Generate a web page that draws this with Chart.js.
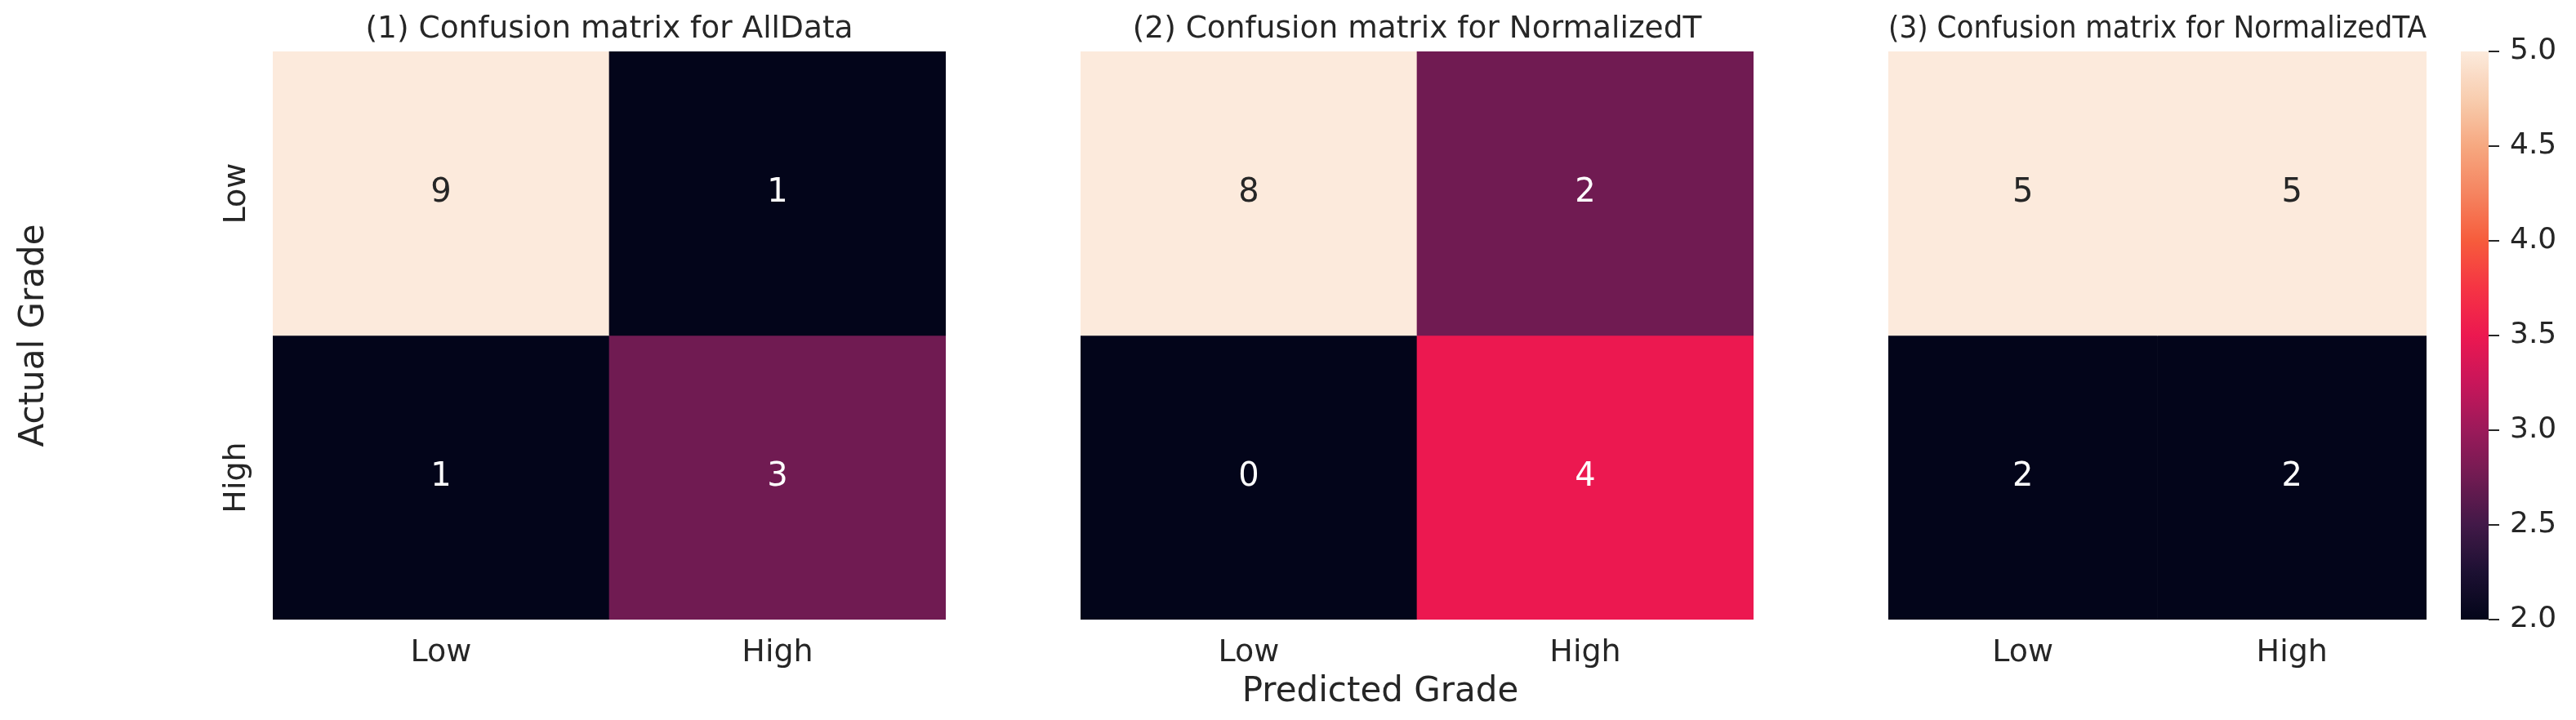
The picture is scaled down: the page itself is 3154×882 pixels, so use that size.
<!DOCTYPE html>
<html>
<head>
<meta charset="utf-8">
<script src="https://cdn.jsdelivr.net/npm/chart.js@4.4.1/dist/chart.umd.min.js"></script>
<style>
  html, body { margin: 0; padding: 0; background: #ffffff; }
  #wrap { position: relative; width: 3154px; height: 882px; overflow: hidden; background: #ffffff; }
  #wrap canvas { position: absolute; left: 0; top: 0; }
</style>
</head>
<body>
<div id="wrap">
  <canvas id="c1" width="3154" height="882"></canvas>
  <canvas id="c2" width="3154" height="882"></canvas>
  <canvas id="c3" width="3154" height="882"></canvas>
  <canvas id="cb" width="3154" height="882"></canvas>
</div>
<script>
// ---------------- data ----------------
const xCategories = ['Low', 'High'];          // predicted grade (columns)
const yCategories = ['Low', 'High'];          // actual grade (rows)
const panelTitles = [
  '(1) Confusion matrix for AllData',
  '(2) Confusion matrix for NormalizedT',
  '(3) Confusion matrix for NormalizedTA'
];
const allDataCounts       = [[9, 1], [1, 3]];
const normalizedTCounts   = [[8, 2], [0, 4]];
const normalizedTACounts  = [[5, 5], [2, 2]];
const colorbarMin = 2.0;
const colorbarMax = 5.0;
const colorbarStep = 0.5;
const xAxisLabel = 'Predicted Grade';
const yAxisLabel = 'Actual Grade';

// ---------------- styling ----------------
const FONT = 'DejaVu Sans';
const TEXT = '#262626';
Chart.defaults.font.family = FONT;
Chart.defaults.color = TEXT;

// seaborn "rocket" colormap, approximated by stops
const ROCKET_STOPS = [
  [0.000, [3, 5, 26]],
  [0.083, [28, 16, 50]],
  [0.167, [66, 25, 72]],
  [0.250, [112, 27, 82]],
  [0.333, [155, 26, 90]],
  [0.417, [200, 22, 90]],
  [0.500, [236, 24, 80]],
  [0.583, [245, 52, 68]],
  [0.667, [246, 92, 60]],
  [0.750, [245, 132, 96]],
  [0.833, [246, 168, 128]],
  [0.917, [248, 205, 175]],
  [1.000, [252, 234, 220]]
];
function rocketAt(f) {
  f = Math.max(0, Math.min(1, f));
  for (let i = 1; i < ROCKET_STOPS.length; i++) {
    const [p0, c0] = ROCKET_STOPS[i - 1];
    const [p1, c1] = ROCKET_STOPS[i];
    if (f <= p1) {
      const t = (f - p0) / (p1 - p0);
      return c0.map((a, k) => Math.round(a + (c1[k] - a) * t));
    }
  }
  return ROCKET_STOPS[ROCKET_STOPS.length - 1][1];
}
const rgb = c => `rgb(${c[0]},${c[1]},${c[2]})`;
function textColorFor(c) {
  const lin = v => { v /= 255; return v <= 0.03928 ? v / 12.92 : Math.pow((v + 0.055) / 1.055, 2.4); };
  const L = 0.2126 * lin(c[0]) + 0.7152 * lin(c[1]) + 0.0722 * lin(c[2]);
  return L > 0.408 ? TEXT : '#ffffff';
}

// cell annotations, placed through the chart's scales
const cellTextPlugin = {
  id: 'cellText',
  afterDatasetsDraw(chart) {
    const { ctx } = chart;
    const xs = chart.scales.x, ys = chart.scales.y;
    ctx.save();
    ctx.font = `40px "${FONT}"`;
    ctx.textAlign = 'center';
    ctx.textBaseline = 'middle';
    chart.data.datasets.forEach((ds, r) => {
      ds.counts.forEach((v, c) => {
        ctx.fillStyle = textColorFor(ds.rgbList[c]);
        ctx.fillText(String(v), xs.getPixelForValue(c), ys.getPixelForValue(r + 0.5));
      });
    });
    ctx.restore();
  }
};

// figure-level x label, drawn relative to the middle panel's area
const supXLabelPlugin = {
  id: 'supXLabel',
  afterDraw(chart) {
    const a = chart.chartArea;
    const { ctx } = chart;
    ctx.save();
    ctx.font = `42px "${FONT}"`;
    ctx.fillStyle = TEXT;
    ctx.textAlign = 'center';
    ctx.textBaseline = 'alphabetic';
    ctx.fillText(xAxisLabel, (a.left + a.right) / 2 - 45, a.bottom + 100);
    ctx.restore();
  }
};

function makeHeatmap(canvasId, title, counts, showY, extraPlugins) {
  const flat = counts.flat();
  const lo = Math.min(...flat), hi = Math.max(...flat);
  const datasets = counts.map((row, r) => {
    const cols = row.map(v => rocketAt(hi > lo ? (v - lo) / (hi - lo) : 0));
    return {
      label: yCategories[r],
      data: row.map(() => [r, r + 1]),
      counts: row,
      rgbList: cols,
      backgroundColor: cols.map(rgb),
      borderWidth: 0,
      grouped: false,
      barPercentage: 1,
      categoryPercentage: 1
    };
  });
  const cfg = {
    type: 'bar',
    data: { labels: xCategories, datasets },
    options: {
      responsive: false,
      animation: false,
      events: [],
      layout: { padding: { left: 0, right: 0, top: 0, bottom: 0 } },
      plugins: {
        legend: { display: false },
        tooltip: { enabled: false },
        title: {
          display: true, text: title, color: TEXT, fullSize: false,
          font: { size: 37.5, weight: 'normal', family: FONT },
          padding: { top: 0, bottom: 4 }
        }
      },
      scales: {
        x: {
          type: 'category',
          grid: { display: false, drawTicks: false },
          border: { display: false },
          ticks: { color: TEXT, font: { size: 38 }, padding: 18, maxRotation: 0, minRotation: 0, autoSkip: false }
        },
        y: {
          type: 'linear', min: 0, max: yCategories.length, reverse: true,
          display: showY,
          grid: { display: false, drawTicks: false },
          border: { display: false },
          afterBuildTicks: s => { s.ticks = yCategories.map((_, i) => ({ value: i + 0.5 })); },
          ticks: {
            color: TEXT, font: { size: 38 }, padding: 0, autoSkip: false,
            minRotation: 90, maxRotation: 90, crossAlign: 'center',
            callback: v => yCategories[Math.floor(v)]
          },
          title: {
            display: showY, text: yAxisLabel, color: TEXT,
            font: { size: 42, family: FONT },
            padding: { top: 17, bottom: 200 }
          }
        }
      }
    },
    plugins: [cellTextPlugin].concat(extraPlugins || [])
  };
  return new Chart(document.getElementById(canvasId), cfg);
}

function fitTo(chart, t, leftViaYTitle) {
  for (let i = 0; i < 5; i++) {
    const a = chart.chartArea;
    const o = chart.config.options;
    const dl = t.left - a.left, dr = a.right - t.right, dt = t.top - a.top, db = a.bottom - t.bottom;
    if (Math.abs(dl) + Math.abs(dr) + Math.abs(dt) + Math.abs(db) < 0.25) break;
    if (leftViaYTitle) o.scales.y.title.padding.bottom += dl; else o.layout.padding.left += dl;
    o.layout.padding.right += dr;
    o.layout.padding.top += dt;
    o.layout.padding.bottom += db;
    chart.update('none');
  }
}

const TOP = 63, BOTTOM = 759;
const ch1 = makeHeatmap('c1', panelTitles[0], allDataCounts, true);
fitTo(ch1, { left: 334, right: 1158, top: TOP, bottom: BOTTOM }, true);
const ch2 = makeHeatmap('c2', panelTitles[1], normalizedTCounts, false, [supXLabelPlugin]);
fitTo(ch2, { left: 1323, right: 2147, top: TOP, bottom: BOTTOM }, false);
const ch3 = makeHeatmap('c3', panelTitles[2], normalizedTACounts, false);
fitTo(ch3, { left: 2312, right: 2971, top: TOP, bottom: BOTTOM }, false);

// ---------------- colorbar ----------------
function colorbarFill(ctx) {
  const chart = ctx.chart;
  const ys = chart.scales.y;
  if (!ys || !chart.chartArea) return rgb(rocketAt(0.5));
  const y0 = ys.getPixelForValue(colorbarMin), y1 = ys.getPixelForValue(colorbarMax);
  const g = chart.ctx.createLinearGradient(0, y0, 0, y1);
  for (let i = 0; i <= 48; i++) g.addColorStop(i / 48, rgb(rocketAt(i / 48)));
  return g;
}
const cbCfg = {
  type: 'bar',
  data: {
    labels: ['colorbar'],
    datasets: [{
      data: [[colorbarMin, colorbarMax]],
      backgroundColor: colorbarFill,
      borderWidth: 0, barPercentage: 1, categoryPercentage: 1
    }]
  },
  options: {
    responsive: false, animation: false, events: [],
    layout: { padding: { left: 0, right: 0, top: 0, bottom: 0 } },
    plugins: { legend: { display: false }, tooltip: { enabled: false } },
    scales: {
      x: { display: false },
      y: {
        position: 'right', min: colorbarMin, max: colorbarMax,
        afterFit: s => { s.width = 100; },
        grid: { display: true, drawOnChartArea: false, drawTicks: true, tickLength: 13, color: TEXT, lineWidth: 2 },
        border: { display: false },
        ticks: { stepSize: colorbarStep, color: TEXT, font: { size: 36 }, padding: 13, callback: v => Number(v).toFixed(1) }
      }
    }
  }
};
const chCb = new Chart(document.getElementById('cb'), cbCfg);
fitTo(chCb, { left: 3013, right: 3047, top: TOP, bottom: BOTTOM }, false);
</script>
</body>
</html>
